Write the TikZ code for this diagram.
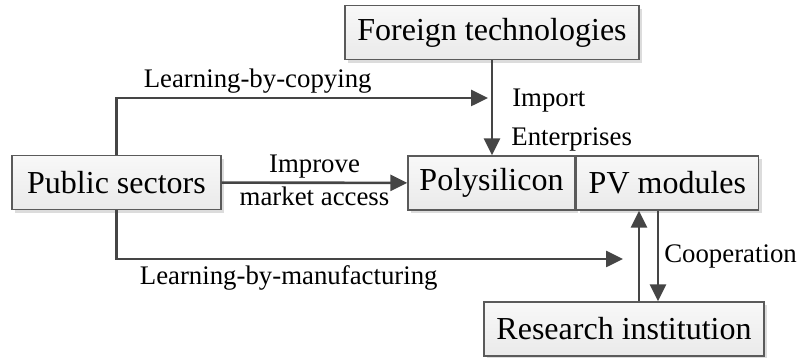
\documentclass[tikz,border=0pt]{standalone}
\usepackage{fontspec}
\setmainfont{Liberation Serif}
\usetikzlibrary{positioning,arrows.meta,shadows,calc}
\definecolor{ink}{HTML}{000000}
\definecolor{wire}{HTML}{454545}
\definecolor{edge}{HTML}{5A5A5A}
\definecolor{boxtop}{HTML}{F8F8F8}
\definecolor{boxbot}{HTML}{EAEAEA}
\definecolor{shade}{HTML}{DCDCDC}
\tikzset{
  box/.style={draw=edge, line width=0.7pt, top color=boxtop, bottom color=boxbot,
              text=ink, font=\fontsize{16}{19}\selectfont, inner sep=2pt,
              minimum height=27pt, align=center,
              drop shadow={shadow xshift=1.6pt, shadow yshift=-1.6pt, fill=shade, opacity=1}},
  flow/.style={-{Triangle[length=8.5pt,width=8pt]}, line width=1.3pt, draw=wire},
  lbl/.style={font=\fontsize{13.4}{15}\selectfont, text=ink, inner sep=1.5pt},
}
\begin{document}
\begin{tikzpicture}[x=0.5pt, y=0.5pt]
\useasboundingbox (0,0) rectangle (797,358);
  % boxes
  \node[box, minimum width=147pt] (fort) at (492,325.5) {Foreign technologies};
  \node[box, minimum width=104.5pt] (pub) at (116.5,175.5) {Public sectors};
  \node[box, minimum width=83.5pt] (poly) at (491.5,175) {Polysilicon};
  \node[box, minimum width=91pt, anchor=west] (pv) at (poly.east) {PV modules};
  \node[box, minimum width=140pt] (res) at (624,29) {Research institution};
  \node[lbl, anchor=south west] (ent) at (508,203) {Enterprises};
  % free ends of the learning arrows
  \coordinate (cpy) at (488,260);
  \coordinate (mfg) at (623,99);
  % connectors
  \draw[flow] (fort) -- (fort |- poly.north) node[lbl, pos=0.42, right=8pt] {Import};
  \draw[flow] (pub.north) |- (cpy) node[lbl, above, pos=0.69] {Learning-by-copying};
  \draw[flow] (pub) -- (poly) node[lbl, midway, above] {Improve}
                             node[lbl, midway, below] {market access};
  \draw[flow] (pub.south) |- (mfg) node[lbl, below, pos=0.67, yshift=-1pt] {Learning-by-manufacturing};
  \draw[flow] ([xshift=7.5pt]res.north) -- ([xshift=7.5pt]res.north |- pv.south);
  \draw[flow] ([xshift=17pt]res.north |- pv.south) -- ([xshift=17pt]res.north)
              node[lbl, midway, right=1pt] {Cooperation};
\end{tikzpicture}
\end{document}
